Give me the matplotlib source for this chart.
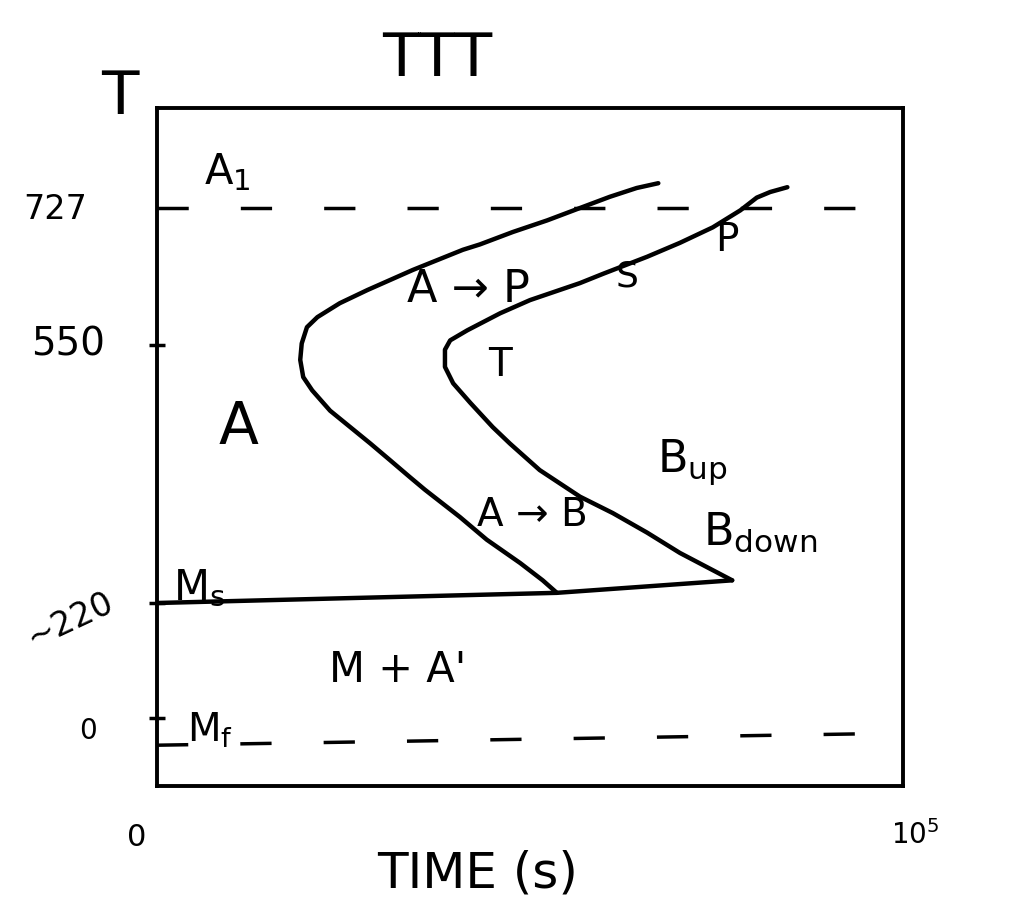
import numpy as np
import matplotlib.pyplot as plt

# TTT sketch: time in s, temperature in C
start_t = [67200, 64300, 60700, 56700, 52300, 47700, 43300, 41000, 34300, 28200, 24500,
           21500, 20100, 19400, 19200, 19600, 20800, 23200, 25900, 28600, 31200, 33900,
           35900, 40600, 44200, 48700, 51700, 53600]
start_T = [758, 752, 741, 727, 711, 696, 680, 673, 647, 621, 604,
           586, 573, 552, 531, 509, 492, 466, 445, 424, 403, 381,
           365, 330, 301, 271, 249, 233]

finish_t = [84500, 82200, 80400, 78200, 74500, 70100, 65700, 59800, 56700, 50000, 46000,
            41600, 39300, 38600, 38600, 39700, 42000, 45000, 47300, 51300, 56700, 61100,
            65700, 70100, 74500, 77100]
finish_T = [753, 747, 740, 724, 702, 682, 664, 642, 630, 608, 591,
            569, 556, 544, 522, 501, 476, 445, 424, 390, 356, 335,
            310, 284, 262, 249]

ms_t = [0, 53600, 77100]
ms_T = [220, 233, 249]
a1_T = 727
mf_t = [0, 100000]
mf_T = [-52, -29]

ytick_vals = [727, 550, 220, 0]
ytick_text = ['727', '550', '~220', '0']

# the sketch spaces the temperature axis unevenly
temp_knots = [-130, 0, 220, 550, 727, 852]
pos_knots = [0, 68, 183, 441, 578, 678]


def fwd(T):
    return np.interp(T, temp_knots, pos_knots)


def inv(p):
    return np.interp(p, pos_knots, temp_knots)


fig = plt.figure(figsize=(10.24, 9.08), dpi=100)
ax = fig.add_axes([157 / 1024, 1 - 786 / 908, 746 / 1024, 678 / 908])
ax.set_yscale('function', functions=(fwd, inv))
ax.set_xlim(0, 100000)
ax.set_ylim(-130, 852)

for s in ax.spines.values():
    s.set_linewidth(2.8)

lw = 3.2
style = dict(color='k', lw=lw, solid_capstyle='round', solid_joinstyle='round')
ax.plot(start_t, start_T, **style)
ax.plot(finish_t, finish_T, **style)
ax.plot(ms_t, ms_T, **style)
ax.plot([0, 100000], [a1_T, a1_T], color='k', lw=2.5, dashes=(9, 15))
ax.plot(mf_t, mf_T, color='k', lw=2.5, dashes=(9, 15))

# ticks on the temperature axis, labels placed by hand
ax.set_xticks([])
ax.set_yticks(ytick_vals[1:])
ax.set_yticklabels([])
ax.tick_params(axis='y', direction='inout', length=12, width=2.5)

offsets = [(-102, -2, 0), (-89, 0, 0), (-87, -17, 25), (-69, -13, 0)]
sizes = [24, 28, 24, 20]
for v, lab, (dx, dy, rot), fs in zip(ytick_vals, ytick_text, offsets, sizes):
    ax.annotate(lab, xy=(0, v), xycoords=('axes fraction', 'data'),
                xytext=(dx, dy), textcoords='offset pixels',
                ha='center', va='center', fontsize=fs, rotation=rot)

ax.annotate('0', xy=(0, 0), xycoords='axes fraction', xytext=(-20, -52),
            textcoords='offset pixels', ha='center', va='center', fontsize=22)
ax.annotate(r'$10^5$', xy=(1, 0), xycoords='axes fraction', xytext=(12, -49),
            textcoords='offset pixels', ha='center', va='center', fontsize=20)

fig.text(437 / 1024, 1 - 60 / 908, 'TTT', ha='center', va='center', fontsize=44)
fig.text(120 / 1024, 1 - 97 / 908, 'T', ha='center', va='center', fontsize=44)
fig.text(478 / 1024, 1 - 874 / 908, 'TIME (s)', ha='center', va='center', fontsize=36)

# region labels
ax.text(9500, 772, r'$\mathrm{A}_1$', ha='center', va='center', fontsize=30)
ax.text(41700, 622, 'A → P', ha='center', va='center', fontsize=32)
ax.text(63000, 638, 'S', ha='center', va='center', fontsize=26)
ax.text(76400, 686, 'P', ha='center', va='center', fontsize=28)
ax.text(46000, 524, 'T', ha='center', va='center', fontsize=28)
ax.text(10900, 444, 'A', ha='center', va='center', fontsize=42)
ax.text(67000, 388, r'$\mathrm{B}_{\mathrm{up}}$', ha='left', va='baseline', fontsize=32)
ax.text(50300, 333, 'A → B', ha='center', va='center', fontsize=28)
ax.text(73200, 294, r'$\mathrm{B}_{\mathrm{down}}$', ha='left', va='baseline', fontsize=32)
ax.text(2100, 224, r'$\mathrm{M}_{\mathrm{s}}$', ha='left', va='baseline', fontsize=30)
ax.text(32200, 92, "M + A'", ha='center', va='center', fontsize=30)
ax.text(4000, -46, r'$\mathrm{M}_{\mathrm{f}}$', ha='left', va='baseline', fontsize=28)

fig.savefig('out.png', dpi=100)
